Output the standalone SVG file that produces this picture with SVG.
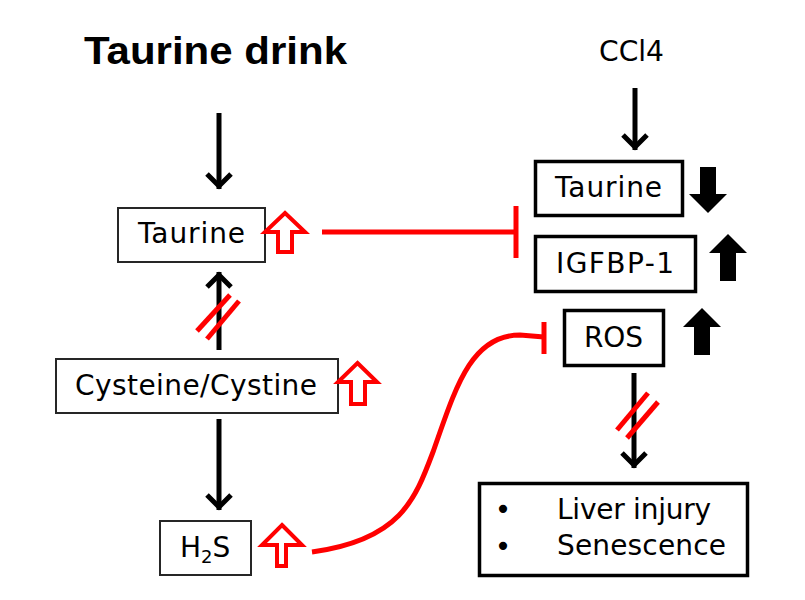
<svg xmlns="http://www.w3.org/2000/svg" width="805" height="600" viewBox="0 0 805 600">
<style>
  .bg{fill:#fff}
  .box1{fill:#fff;stroke:#262626;stroke-width:2}
  .box2{fill:#fff;stroke:#000;stroke-width:3.5}
  .lbl{font-family:"DejaVu Sans","Liberation Sans",sans-serif;font-size:28px;fill:#000}
  .title{font-family:"Liberation Sans",Arial,sans-serif;font-size:39px;font-weight:bold;fill:#000}
  .blk{fill:none;stroke:#000;stroke-width:5}
  .red{fill:none;stroke:#f00;stroke-width:5}
  .hollow{fill:#fff;stroke:#f00;stroke-width:4;stroke-linejoin:miter}
  .solid{fill:#000;stroke:none}
</style>
<defs>
  <marker id="chev" markerUnits="userSpaceOnUse" orient="auto" overflow="visible" markerWidth="1" markerHeight="1" refX="0" refY="0">
    <path d="M-15,-12 L-3,0 L-15,12" fill="none" stroke="#000" stroke-width="5"/>
  </marker>
</defs>
<rect class="bg" x="0" y="0" width="805" height="600"/>

<g id="title">
  <text class="title" x="84" y="64" textLength="263" lengthAdjust="spacingAndGlyphs">Taurine drink</text>
</g>
<g id="ccl4">
  <text class="lbl" x="599" y="61" textLength="65" lengthAdjust="spacingAndGlyphs">CCl4</text>
</g>

<g id="connectors">
  <line class="blk" x1="219" y1="113" x2="219" y2="189" marker-end="url(#chev)"/>
  <line class="blk" x1="219" y1="350" x2="219" y2="272" marker-end="url(#chev)"/>
  <line class="blk" x1="219" y1="419" x2="219" y2="510" marker-end="url(#chev)"/>
  <line class="blk" x1="635" y1="88" x2="635" y2="150" marker-end="url(#chev)"/>
  <line class="blk" x1="634" y1="373" x2="634" y2="468" marker-end="url(#chev)"/>
  <!-- double slashes -->
  <line class="red" x1="197" y1="331" x2="230" y2="295"/>
  <line class="red" x1="207" y1="339" x2="239" y2="301"/>
  <line class="red" x1="617" y1="430" x2="648" y2="393"/>
  <line class="red" x1="627" y1="438" x2="658" y2="402"/>
  <!-- inhibition lines -->
  <line class="red" x1="322" y1="232" x2="516" y2="232"/>
  <line class="red" x1="516" y1="206" x2="516" y2="258"/>
  <path class="red" d="M312,552 C400,540 415,500 433,452 C455,390 470,335 520,335 L544,337"/>
  <line class="red" x1="544" y1="322" x2="544" y2="354"/>
</g>

<g id="taurine-left">
  <rect class="box1" x="118" y="208" width="147" height="54"/>
  <text class="lbl" x="138" y="243" textLength="107">Taurine</text>
  <polygon class="hollow" points="285,213 305,232 292,232 292,252 278,252 278,232 265,232"/>
</g>

<g id="cysteine">
  <rect class="box1" x="56" y="359" width="282" height="54"/>
  <text class="lbl" x="75" y="395" textLength="242">Cysteine/Cystine</text>
  <polygon class="hollow" points="357.5,363 377,382 365,382 365,404 351,404 351,382 338,382"/>
</g>

<g id="h2s">
  <rect class="box1" x="160" y="521" width="91" height="54"/>
  <text class="lbl" x="180" y="557">H<tspan font-size="18" dy="6">2</tspan><tspan dy="-6">S</tspan></text>
  <polygon class="hollow" points="282,525 302,545 286,545 286,566 277,566 277,545 262,545"/>
</g>

<g id="taurine-right">
  <rect class="box2" x="535.5" y="161.5" width="147" height="54"/>
  <text class="lbl" x="555" y="197" textLength="107">Taurine</text>
  <polygon class="solid" points="700,167 716,167 716,194 727,194 708,213 689,194 700,194"/>
</g>

<g id="igfbp1">
  <rect class="box2" x="535.5" y="236.5" width="160" height="55"/>
  <text class="lbl" x="556" y="273" textLength="118">IGFBP-1</text>
  <polygon class="solid" points="728,234 747,253 736,253 736,281 720,281 720,253 709,253"/>
</g>

<g id="ros">
  <rect class="box2" x="564.5" y="310.5" width="99" height="55"/>
  <text class="lbl" x="584" y="347" textLength="59">ROS</text>
  <polygon class="solid" points="702,308 721,327 710,327 710,355 694,355 694,327 683,327"/>
</g>

<g id="outcome">
  <rect class="box2" x="479.5" y="483.5" width="268" height="92"/>
  <text class="lbl" x="503" y="519" text-anchor="middle">•</text>
  <text class="lbl" x="503" y="556" text-anchor="middle">•</text>
  <text class="lbl" x="557" y="519" textLength="154">Liver injury</text>
  <text class="lbl" x="557" y="555" textLength="169">Senescence</text>
</g>
</svg>
